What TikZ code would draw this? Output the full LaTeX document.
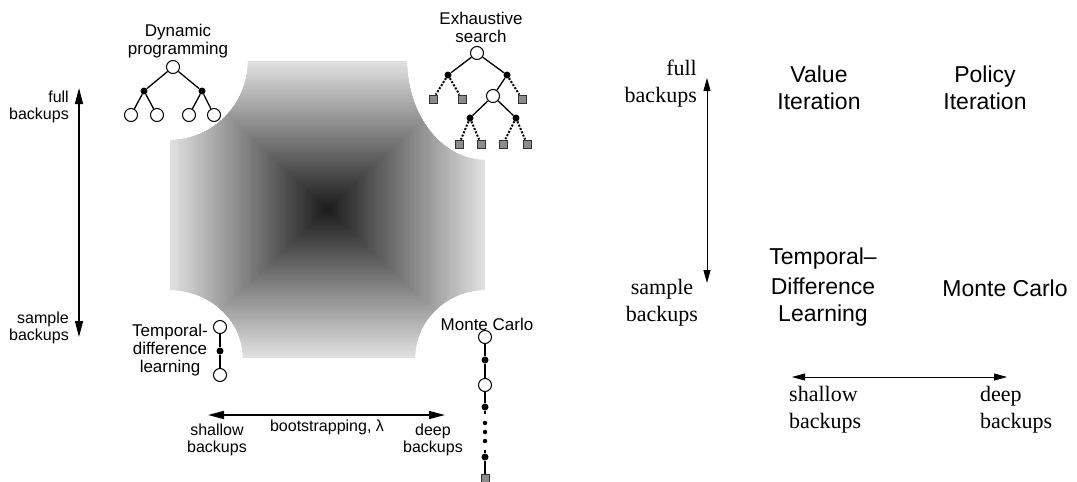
\documentclass[tikz,border=0pt]{standalone}
\usepackage{fontspec}
\setmainfont{Liberation Serif}
\setsansfont{Liberation Sans}
\usetikzlibrary{arrows.meta}
\begin{document}
\begin{tikzpicture}[x=1pt,y=-1pt,
  oc/.style={circle,draw=black,fill=white,line width=1pt,minimum size=13pt,inner sep=0pt},
  bd/.style={circle,fill=black,minimum size=7pt,inner sep=0pt},
  sd/.style={circle,fill=black,minimum size=4.5pt,inner sep=0pt},
  sq/.style={rectangle,draw=black!80,fill=black!45,line width=0.8pt,minimum size=8pt,inner sep=0pt},
  edge/.style={line width=1.3pt},
  dedge/.style={line width=2pt,dash pattern=on 2pt off 1.6pt},
  lbl/.style={font=\sffamily\fontsize{17}{18}\selectfont,align=center,inner sep=0pt},
  axl/.style={font=\sffamily\fontsize{16}{17}\selectfont,inner sep=0pt},
  rmeth/.style={font=\sffamily\fontsize{23}{27}\selectfont,align=center,inner sep=0pt},
  rax/.style={font=\rmfamily\fontsize{22}{27}\selectfont,inner sep=0pt},
  larr/.style={line width=1.5pt,{Triangle[length=16pt,width=8pt]}-{Triangle[length=16pt,width=8pt]}},
  rarr/.style={line width=0.9pt,{Triangle[length=13pt,width=7pt]}-{Triangle[length=13pt,width=7pt]}}
]
\useasboundingbox (0,0) rectangle (1077,482);
\fill[white] (0,0) rectangle (1077,482);

% shaded region
\begin{scope}
\clip (248,61) -- (407,61) arc[start angle=180,end angle=90,x radius=78,y radius=99]
  -- (485,290) arc[start angle=270,end angle=180,x radius=70,y radius=68]
  -- (243,358) arc[start angle=0,end angle=-90,x radius=73,y radius=68]
  -- (170,140) arc[start angle=90,end angle=0,x radius=78,y radius=79] -- cycle;
\foreach \i in {0,...,69}{
  \pgfmathsetmacro\t{\i/70}
  \pgfmathsetmacro\p{12+78*\t}
  \fill[black!\p] ({327.5-157.5*(1-\t)},{209.5-148.5*(1-\t)}) rectangle ({327.5+157.5*(1-\t)},{209.5+148.5*(1-\t)});
}
\end{scope}

% left panel labels
\node[lbl] (dptitle) at (178,41) {Dynamic\\programming};
\node[lbl] (estitle) at (481,27) {Exhaustive\\search};
\node[lbl] (tdtitle) at (170,350) {Temporal-\\difference\\learning};
\node[lbl] (mctitle) at (487,324) {Monte Carlo};
\node[axl,align=right,anchor=east] (lfull) at (69,107) {full\\backups};
\node[axl,align=right,anchor=east] (lsample) at (69,328) {sample\\backups};
\node[axl,align=center] (lshallow) at (217,440) {shallow\\backups};
\node[axl] (lboot) at (327,427) {bootstrapping, λ};
\node[axl,align=center] (ldeep) at (433,440) {deep\\backups};

% left arrows
\coordinate (la1) at (79,88);
\coordinate (la2) at (79,337);
\coordinate (lh1) at (208,415);
\coordinate (lh2) at (445,415);
\draw[larr] (la1) -- (la2);
\draw[larr] (lh1) -- (lh2);

% dynamic programming tree
\node[oc] (dp0) at (173,67) {};
\node[bd] (dp1) at (144,91) {};
\node[bd] (dp2) at (202,91) {};
\node[oc] (dp3) at (131,115) {};
\node[oc] (dp4) at (157,115) {};
\node[oc] (dp5) at (189,115) {};
\node[oc] (dp6) at (214,115) {};
\draw[edge] (dp0) -- (dp1) (dp0) -- (dp2) (dp1) -- (dp3) (dp1) -- (dp4) (dp2) -- (dp5) (dp2) -- (dp6);

% exhaustive search tree
\node[oc] (es0) at (477,53) {};
\node[bd] (es1) at (448,75) {};
\node[bd] (es2) at (507,75) {};
\node[sq] (es3) at (433,99) {};
\node[sq] (es4) at (462,99) {};
\node[oc] (es5) at (493,96) {};
\node[sq] (es6) at (522,99) {};
\node[bd] (es7) at (470,118) {};
\node[bd] (es8) at (516,118) {};
\node[sq] (es9) at (459,144) {};
\node[sq] (es10) at (481,144) {};
\node[sq] (es11) at (503,144) {};
\node[sq] (es12) at (527,144) {};
\draw[edge] (es0) -- (es1) (es0) -- (es2) (es2) -- (es5) (es5) -- (es7) (es5) -- (es8);
\draw[dedge] (es1) -- (es3) (es1) -- (es4) (es2) -- (es6) (es7) -- (es9) (es7) -- (es10) (es8) -- (es11) (es8) -- (es12);

% TD chain
\node[oc] (td0) at (220,327) {};
\node[bd] (td1) at (220,351) {};
\node[oc] (td2) at (220,375) {};
\draw[edge] (td0) -- (td1) -- (td2);

% MC chain
\node[oc] (mc0) at (485,337) {};
\node[bd] (mc1) at (485,360) {};
\node[oc] (mc2) at (485,385) {};
\node[bd] (mc3) at (485,407) {};
\node[sd] (mcd1) at (485,423) {};
\node[sd] (mcd2) at (485,432) {};
\node[sd] (mcd3) at (485,441) {};
\node[bd] (mc4) at (485,457) {};
\node[sq] (mc5) at (485,478) {};
\coordinate (mcc1) at (485,414);
\coordinate (mcc2) at (485,450);
\draw[edge] (mc0) -- (mc1) -- (mc2) -- (mc3) -- (mcc1);
\draw[edge] (mcc2) -- (mc4) -- (mc5);

% right panel
\node[rax,align=right,anchor=east] (rfull) at (697,84) {full\\backups};
\node[rax,align=center] (rsample) at (662,303) {sample\\backups};
\node[rmeth] (vi) at (819,88) {Value\\Iteration};
\node[rmeth] (pi) at (985,88) {Policy\\Iteration};
\node[rmeth] (tdl) at (823,287) {Temporal–\\[3pt]Difference\\Learning};
\node[rmeth] (mc) at (1005,288) {Monte Carlo};
\node[rax,align=left,anchor=west] (rshallow) at (789,410) {shallow\\backups};
\node[rax,align=left,anchor=west] (rdeep) at (980,410) {deep\\backups};
\coordinate (ra1) at (707,78);
\coordinate (ra2) at (707,283);
\coordinate (rh1) at (792,377);
\coordinate (rh2) at (1007,377);
\draw[rarr] (ra1) -- (ra2);
\draw[rarr] (rh1) -- (rh2);
\end{tikzpicture}
\end{document}
